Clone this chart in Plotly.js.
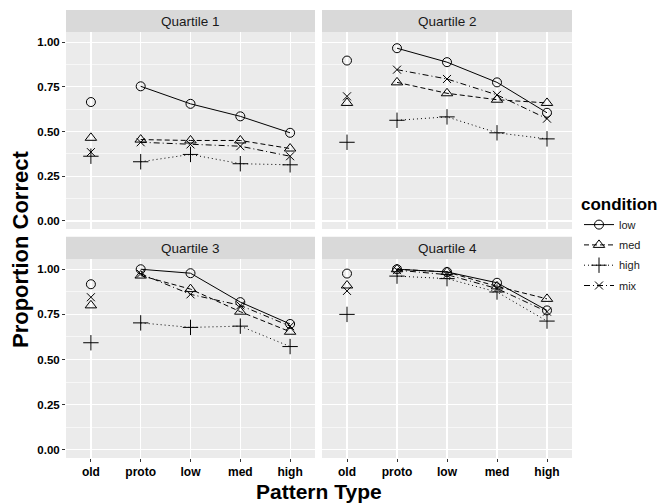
<!DOCTYPE html>
<html>
<head>
<meta charset="utf-8">
<script src="https://cdn.plot.ly/plotly-3.0.1.min.js"></script>
<style>html,body{margin:0;padding:0;background:#fff;}#chart{width:665px;height:504px;}</style>
</head>
<body>
<div id="chart"></div>
<script>
// ---- data ----
const categories = ['old', 'proto', 'low', 'med', 'high'];
const conditions = ['low', 'med', 'high', 'mix'];
const quartiles = ['Quartile 1', 'Quartile 2', 'Quartile 3', 'Quartile 4'];
const yTicks = [0, 0.25, 0.5, 0.75, 1.0];

const q1Low  = [0.665, 0.753, 0.655, 0.585, 0.493];
const q1Med  = [0.465, 0.455, 0.450, 0.450, 0.405];
const q1High = [0.362, 0.331, 0.372, 0.320, 0.314];
const q1Mix  = [0.385, 0.440, 0.428, 0.418, 0.362];

const q2Low  = [0.897, 0.966, 0.888, 0.775, 0.605];
const q2Med  = [0.660, 0.775, 0.714, 0.678, 0.660];
const q2High = [0.440, 0.563, 0.582, 0.493, 0.459];
const q2Mix  = [0.697, 0.846, 0.794, 0.705, 0.572];

const q3Low  = [0.917, 1.000, 0.978, 0.818, 0.697];
const q3Med  = [0.800, 0.965, 0.890, 0.765, 0.654];
const q3High = [0.593, 0.703, 0.678, 0.685, 0.572];
const q3Mix  = [0.845, 0.975, 0.861, 0.800, 0.685];

const q4Low  = [0.976, 1.000, 0.985, 0.925, 0.772];
const q4Med  = [0.910, 1.000, 0.985, 0.905, 0.836];
const q4High = [0.750, 0.962, 0.948, 0.874, 0.713];
const q4Mix  = [0.880, 0.995, 0.970, 0.893, 0.765];

const seriesByQuartile = [
  [q1Low, q1Med, q1High, q1Mix],
  [q2Low, q2Med, q2High, q2Mix],
  [q3Low, q3Med, q3High, q3Mix],
  [q4Low, q4Med, q4High, q4Mix]
];

// ---- styles ----
const symbols = {low: 'circle-open', med: 'triangle-up-open', high: 'cross-thin-open', mix: 'x-thin-open'};
const sizes = {low: 9, med: 10, high: 11, mix: 8};
const dashes = {low: 'solid', med: '5px,3px', high: '1px,3px', mix: '6px,3px,1px,3px'};
const ink = '#000000';
const FONT = 'Liberation Sans, Arial, sans-serif';

const traces = [];
seriesByQuartile.forEach((group, qi) => {
  const sfx = qi === 0 ? '' : String(qi + 1);
  group.forEach((vals, ci) => {
    const c = conditions[ci];
    traces.push({
      type: 'scatter', mode: 'lines+markers',
      x: categories.slice(1), y: vals.slice(1),
      xaxis: 'x' + sfx, yaxis: 'y' + sfx,
      name: c, legendgroup: c, showlegend: qi === 0,
      line: {color: ink, width: 1, dash: dashes[c]},
      marker: {symbol: symbols[c], size: sizes[c], color: ink, line: {color: ink, width: 1}},
      hoverinfo: 'x+y+name'
    });
    traces.push({
      type: 'scatter', mode: 'markers',
      x: categories.slice(0, 1), y: vals.slice(0, 1),
      xaxis: 'x' + sfx, yaxis: 'y' + sfx,
      name: c, legendgroup: c, showlegend: false,
      marker: {symbol: symbols[c], size: sizes[c], color: ink, line: {color: ink, width: 1}},
      hoverinfo: 'x+y+name'
    });
  });
});

// ---- layout ----
const W = 665, H = 504;
const colX = [[66, 315], [322, 572]];
const rowY = [[32.3, 229], [259.3, 458]];   // plot area (pixels from top)
const stripY = [[10, 32.3], [236.7, 259.3]];
const px = v => v / W;
const py = v => 1 - v / H;

const layout = {
  width: W, height: H,
  margin: {l: 0, r: 0, t: 0, b: 0},
  paper_bgcolor: '#FFFFFF',
  plot_bgcolor: '#EBEBEB',
  font: {family: FONT, color: '#1A1A1A', size: 11},
  showlegend: true,
  legend: {
    x: px(579), y: py(188), xanchor: 'left', yanchor: 'top',
    title: {text: 'condition', font: {family: FONT, size: 17, color: '#000', weight: 'bold'}},
    font: {family: FONT, size: 11, color: '#1A1A1A'},
    bgcolor: 'rgba(0,0,0,0)', traceorder: 'grouped', tracegroupgap: 1.3
  },
  shapes: [],
  annotations: []
};

for (let qi = 0; qi < 4; qi++) {
  const r = Math.floor(qi / 2), c = qi % 2;
  const sfx = qi === 0 ? '' : String(qi + 1);
  const bottom = r === 1, left = c === 0;
  layout['xaxis' + sfx] = {
    domain: [px(colX[c][0]), px(colX[c][1])],
    anchor: 'y' + sfx,
    type: 'category', categoryorder: 'array', categoryarray: categories,
    range: [-0.5, categories.length - 0.5],
    showgrid: true, gridcolor: '#FFFFFF', gridwidth: 1.2,
    zeroline: false, showline: false,
    showticklabels: bottom,
    ticks: bottom ? 'outside' : '', ticklen: 3, tickwidth: 1, tickcolor: '#333333',
    tickfont: {family: FONT, size: 12, color: '#000', weight: 'bold'},
    fixedrange: true
  };
  layout['yaxis' + sfx] = {
    domain: [py(rowY[r][1]), py(rowY[r][0])],
    anchor: 'x' + sfx,
    range: [-0.045, 1.055],
    tickvals: yTicks, ticktext: yTicks.map(v => v.toFixed(2)),
    showgrid: true, gridcolor: '#FFFFFF', gridwidth: 1.2,
    minor: {tickvals: [0.125, 0.375, 0.625, 0.875], showgrid: true, gridcolor: '#FFFFFF', gridwidth: 0.6, ticks: ''},
    zeroline: false, showline: false,
    showticklabels: left,
    ticks: left ? 'outside' : '', ticklen: 3, tickwidth: 1, tickcolor: '#333333',
    tickfont: {family: FONT, size: 11.5, color: '#000', weight: 'bold'},
    fixedrange: true
  };
  // facet strip
  layout.shapes.push({
    type: 'rect', xref: 'paper', yref: 'paper',
    x0: px(colX[c][0]), x1: px(colX[c][1]),
    y0: py(stripY[r][1]), y1: py(stripY[r][0]),
    fillcolor: '#D9D9D9', line: {width: 0}, layer: 'below'
  });
  layout.annotations.push({
    xref: 'paper', yref: 'paper',
    x: px((colX[c][0] + colX[c][1]) / 2), y: py((stripY[r][0] + stripY[r][1]) / 2),
    xanchor: 'center', yanchor: 'middle', showarrow: false,
    text: quartiles[qi], font: {family: FONT, size: 13.5, color: '#1A1A1A'}
  });
}

layout.annotations.push({
  xref: 'paper', yref: 'paper', x: px(319), y: py(491.5),
  xanchor: 'center', yanchor: 'middle', showarrow: false,
  text: 'Pattern Type', font: {family: FONT, size: 21, color: '#000', weight: 'bold'}
});
layout.annotations.push({
  xref: 'paper', yref: 'paper', x: px(20), y: py(250),
  xanchor: 'center', yanchor: 'middle', showarrow: false, textangle: -90,
  text: 'Proportion Correct', font: {family: FONT, size: 22, color: '#000', weight: 'bold'}
});

Plotly.newPlot('chart', traces, layout, {displayModeBar: false, staticPlot: true});
</script>
</body>
</html>
